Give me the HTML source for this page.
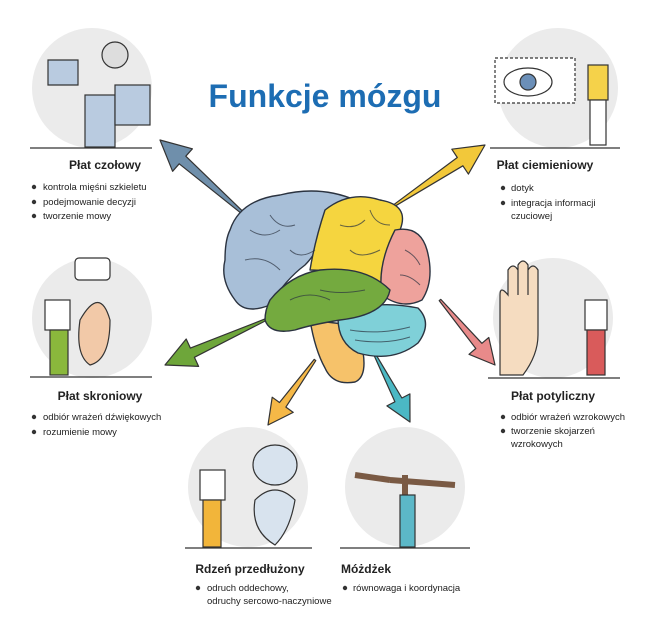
<!DOCTYPE html>
<html><head><meta charset="utf-8"><style>
body{margin:0;background:#fff}
svg{display:block}
text{font-family:"Liberation Sans",sans-serif;fill:#222}
.h{font-weight:bold;font-size:12px;text-anchor:middle}
.b{font-size:9.5px}
</style></head><body>
<svg width="650" height="619" viewBox="0 0 650 619" xmlns="http://www.w3.org/2000/svg">
<!-- circles -->
<g fill="#ebebeb">
<circle cx="92" cy="88" r="60"/>
<circle cx="558" cy="88" r="60"/>
<circle cx="92" cy="318" r="60"/>
<circle cx="553" cy="318" r="60"/>
<circle cx="248" cy="487" r="60"/>
<circle cx="405" cy="487" r="60"/>
</g>
<g stroke="#333" stroke-width="1.2">
<line x1="30" y1="148" x2="152" y2="148"/>
<line x1="490" y1="148" x2="620" y2="148"/>
<line x1="30" y1="377" x2="152" y2="377"/>
<line x1="488" y1="378" x2="620" y2="378"/>
<line x1="185" y1="548" x2="312" y2="548"/>
<line x1="340" y1="548" x2="470" y2="548"/>
</g>
<!-- simple illustration hints -->
<g stroke="#333" stroke-width="1.2" fill="#b9cbe0">
<rect x="85" y="95" width="30" height="52"/><rect x="115" y="85" width="35" height="40"/>
<circle cx="115" cy="55" r="13" fill="#ddd"/>
<path d="M48,60 h30 v25 h-30z" fill="#b9cbe0"/>
<rect x="495" y="58" width="80" height="45" fill="#fff" stroke-dasharray="3,2"/>
<ellipse cx="528" cy="82" rx="24" ry="14" fill="#fff"/><circle cx="528" cy="82" r="8" fill="#6b8fb8"/>
<rect x="588" y="65" width="20" height="35" fill="#f5d24a"/><rect x="590" y="100" width="16" height="45" fill="#fff"/>
<path d="M80,320 q20,-35 30,0 q0,40 -20,45 q-15,-10 -10,-45z" fill="#f2c9a8"/>
<rect x="45" y="300" width="25" height="30" fill="#fff"/><rect x="50" y="330" width="18" height="45" fill="#8ab83c"/>
<rect x="75" y="258" width="35" height="22" rx="4" fill="#fff"/>
<path d="M500,375 v-80 q0,-10 8,0 v-25 q5,-8 10,0 v25 v-30 q5,-8 10,0 v30 v-25 q5,-8 10,0 v65 q0,20 -15,40z" fill="#f5dcc0"/>
<rect x="585" y="300" width="22" height="30" fill="#fff"/><rect x="587" y="330" width="18" height="45" fill="#d95b5b"/>
<rect x="200" y="470" width="25" height="30" fill="#fff"/><rect x="203" y="500" width="18" height="47" fill="#f2b53a"/>
<ellipse cx="275" cy="465" rx="22" ry="20" fill="#d8e3ee"/><path d="M255,500 q20,-20 40,0 q-5,30 -20,45 q-25,-15 -20,-45z" fill="#d8e3ee"/>
<path d="M390,480 l-35,-5 M390,480 l65,5 M405,475 v40" stroke-width="6" stroke="#7a5a44"/>
<rect x="400" y="495" width="15" height="52" fill="#5cb8c8"/>
</g>
<!-- arrows -->
<g stroke="#333" stroke-width="1.2" stroke-linejoin="round">
<polygon points="245.7,214.2 185.8,156.2 192.4,148.8 160,140 172.6,171.3 179.2,163.8 244.3,215.8" fill="#6f8fab"/>
<polygon points="395.6,205.8 462.9,165.8 468.4,174.1 485,145 451.8,149.2 457.3,157.5 394.4,204.2" fill="#f2c83a"/>
<polygon points="265.4,320.9 194.4,357.3 198.6,366.4 165,365 186.2,339 190.4,348.1 264.6,319.1" fill="#6ea63a"/>
<polygon points="315.8,360.6 285.9,407.1 293.2,412.4 268,425 272.2,397.2 279.5,402.5 314.2,359.4" fill="#f5b847"/>
<polygon points="375.9,354.5 401.9,398 409.9,393.9 410,422 386.9,405.9 394.9,401.8 374.1,355.5" fill="#4bb8c4"/>
<polygon points="440.8,299.4 481.9,343.3 488.8,337.5 495,365 469,354.3 475.8,348.5 439.2,300.6" fill="#e88a8a"/>
</g>
<!-- brain -->
<g stroke="#2b3340" stroke-width="1.4" stroke-linejoin="round">
<path d="M310,320 q5,30 15,48 q8,18 30,14 q12,-5 8,-30 l5,-25z" fill="#f6c26a"/>
<path d="M338,318 q30,-20 80,-10 q15,15 0,35 q-25,20 -60,10 q-20,-10 -20,-35z" fill="#7fd0d8"/>
<path d="M230,230 q10,-30 50,-35 q40,-10 75,5 q-20,10 -30,35 q-10,20 -20,30 q-20,15 -35,40 q-25,10 -35,-5 q-15,-20 -10,-40 q0,-20 5,-30z" fill="#a8bfd8"/>
<path d="M325,210 q25,-20 55,-10 q30,5 20,30 q-5,20 -5,50 q-25,5 -50,-5 q-15,-5 -35,-5 q5,-30 15,-60z" fill="#f5d53f"/>
<path d="M395,230 q25,-5 32,20 q8,30 -5,50 q-20,10 -40,-5 q-5,-30 13,-65z" fill="#eea29c"/>
<path d="M270,300 q20,-25 50,-30 q45,-5 70,20 q-5,25 -50,30 q-30,5 -45,10 q-25,5 -30,-10 q0,-10 5,-20z" fill="#74aa3f"/>
</g>
<g stroke="#2b3340" stroke-width="1" fill="none" opacity=".7">
<path d="M250,230 q15,10 30,0 M245,260 q20,-5 35,10 M270,215 q10,15 25,10 M290,250 q10,10 25,0"/>
<path d="M340,225 q15,5 25,-5 M350,250 q10,10 30,0 M370,210 q5,15 20,15"/>
<path d="M405,250 q10,5 15,15 M400,275 q10,0 20,10"/>
<path d="M290,300 q20,-10 40,0 M320,290 q20,5 45,0"/>
<path d="M350,330 q30,5 60,-3 M355,340 q30,5 55,-3"/>
</g>
<!-- title -->
<text x="325" y="107" text-anchor="middle" style="font-size:32px;font-weight:bold;fill:#1d6db3">Funkcje mózgu</text>
<!-- labels -->
<text class="h" x="105" y="169">Płat czołowy</text>
<g fill="#333"><circle cx="34" cy="187" r="2.2"/><circle cx="34" cy="202" r="2.2"/><circle cx="34" cy="216" r="2.2"/></g>
<text class="b" x="43" y="190">kontrola mięśni szkieletu</text>
<text class="b" x="43" y="205">podejmowanie decyzji</text>
<text class="b" x="43" y="219">tworzenie mowy</text>

<text class="h" x="545" y="169">Płat ciemieniowy</text>
<g fill="#333"><circle cx="503" cy="188" r="2.2"/><circle cx="503" cy="203" r="2.2"/></g>
<text class="b" x="511" y="191">dotyk</text>
<text class="b" x="511" y="206">integracja informacji</text>
<text class="b" x="511" y="219">czuciowej</text>

<text class="h" x="100" y="400">Płat skroniowy</text>
<g fill="#333"><circle cx="34" cy="417" r="2.2"/><circle cx="34" cy="432" r="2.2"/></g>
<text class="b" x="43" y="420">odbiór wrażeń dźwiękowych</text>
<text class="b" x="43" y="435">rozumienie mowy</text>

<text class="h" x="553" y="400">Płat potyliczny</text>
<g fill="#333"><circle cx="503" cy="417" r="2.2"/><circle cx="503" cy="431" r="2.2"/></g>
<text class="b" x="511" y="420">odbiór wrażeń wzrokowych</text>
<text class="b" x="511" y="434">tworzenie skojarzeń</text>
<text class="b" x="511" y="447">wzrokowych</text>

<text class="h" x="250" y="573">Rdzeń przedłużony</text>
<circle cx="198" cy="588" r="2.2" fill="#333"/>
<text class="b" x="207" y="591">odruch oddechowy,</text>
<text class="b" x="207" y="604">odruchy sercowo-naczyniowe</text>

<text class="h" x="366" y="573">Móżdżek</text>
<circle cx="345" cy="588" r="2.2" fill="#333"/>
<text class="b" x="353" y="591">równowaga i koordynacja</text>
</svg>
</body></html>
